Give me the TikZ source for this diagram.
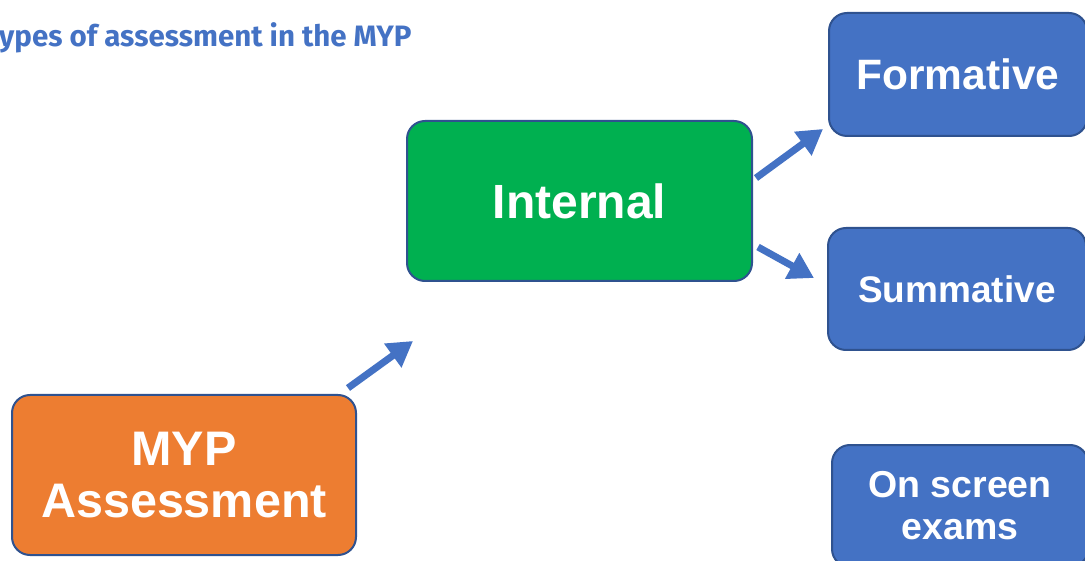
\documentclass[tikz,border=0pt]{standalone}
\usepackage{fontspec}
\setmainfont{Liberation Sans}
\newfontfamily\titlefont{Fira Sans}
\usetikzlibrary{arrows.meta}
\definecolor{boxblue}{HTML}{4472C4}
\definecolor{edgeblue}{HTML}{2F528F}
\definecolor{boxgreen}{HTML}{00B050}
\definecolor{boxorange}{HTML}{ED7D31}
\tikzset{
  box/.style={draw=edgeblue, line width=2pt, rounded corners=18pt, text=white,
    font=\bfseries, align=center, inner sep=0pt},
  conn/.style={draw=boxblue, line width=7pt,
    -{Triangle[length=25pt,width=28pt]}},
}
\begin{document}
\begin{tikzpicture}[x=1pt,y=-1pt]
\useasboundingbox (0,0) rectangle (1085,561);
\node[anchor=base west, text=boxblue, font=\titlefont\bfseries\fontsize{29.5}{33}\selectfont, inner sep=0pt] (title) at (-1,47) {ypes of assessment in the MYP};
\node[box, fill=boxorange, minimum width=344pt, minimum height=160pt,
  font=\bfseries\fontsize{48.5}{52}\selectfont] (myp) at (184,475) {MYP\\Assessment};
\node[box, fill=boxgreen, minimum width=345pt, minimum height=160pt,
  font=\bfseries\fontsize{48}{52}\selectfont] (internal) at (579.5,201) {Internal};
\node[box, fill=boxblue, minimum width=258pt, minimum height=123pt,
  font=\bfseries\fontsize{42.5}{48}\selectfont] (formative) at (958,74.5) {Formative};
\node[box, fill=boxblue, minimum width=258pt, minimum height=122pt,
  font=\bfseries\fontsize{37}{42}\selectfont] (summative) at (957,289) {Summative};
\node[box, fill=boxblue, minimum width=256pt, minimum height=122pt,
  font=\bfseries\fontsize{37.5}{42}\selectfont] (onscreen) at (960,506) {On screen\\exams};
\coordinate (a1s) at (348,388);
\coordinate (a1e) at (413,341);
\coordinate (a2s) at (756,178);
\coordinate (a2e) at (823,129);
\coordinate (a3s) at (758,247);
\coordinate (a3e) at (814,278);
\draw[conn] (a1s) -- (a1e);
\draw[conn] (a2s) -- (a2e);
\draw[conn] (a3s) -- (a3e);
\end{tikzpicture}
\end{document}
